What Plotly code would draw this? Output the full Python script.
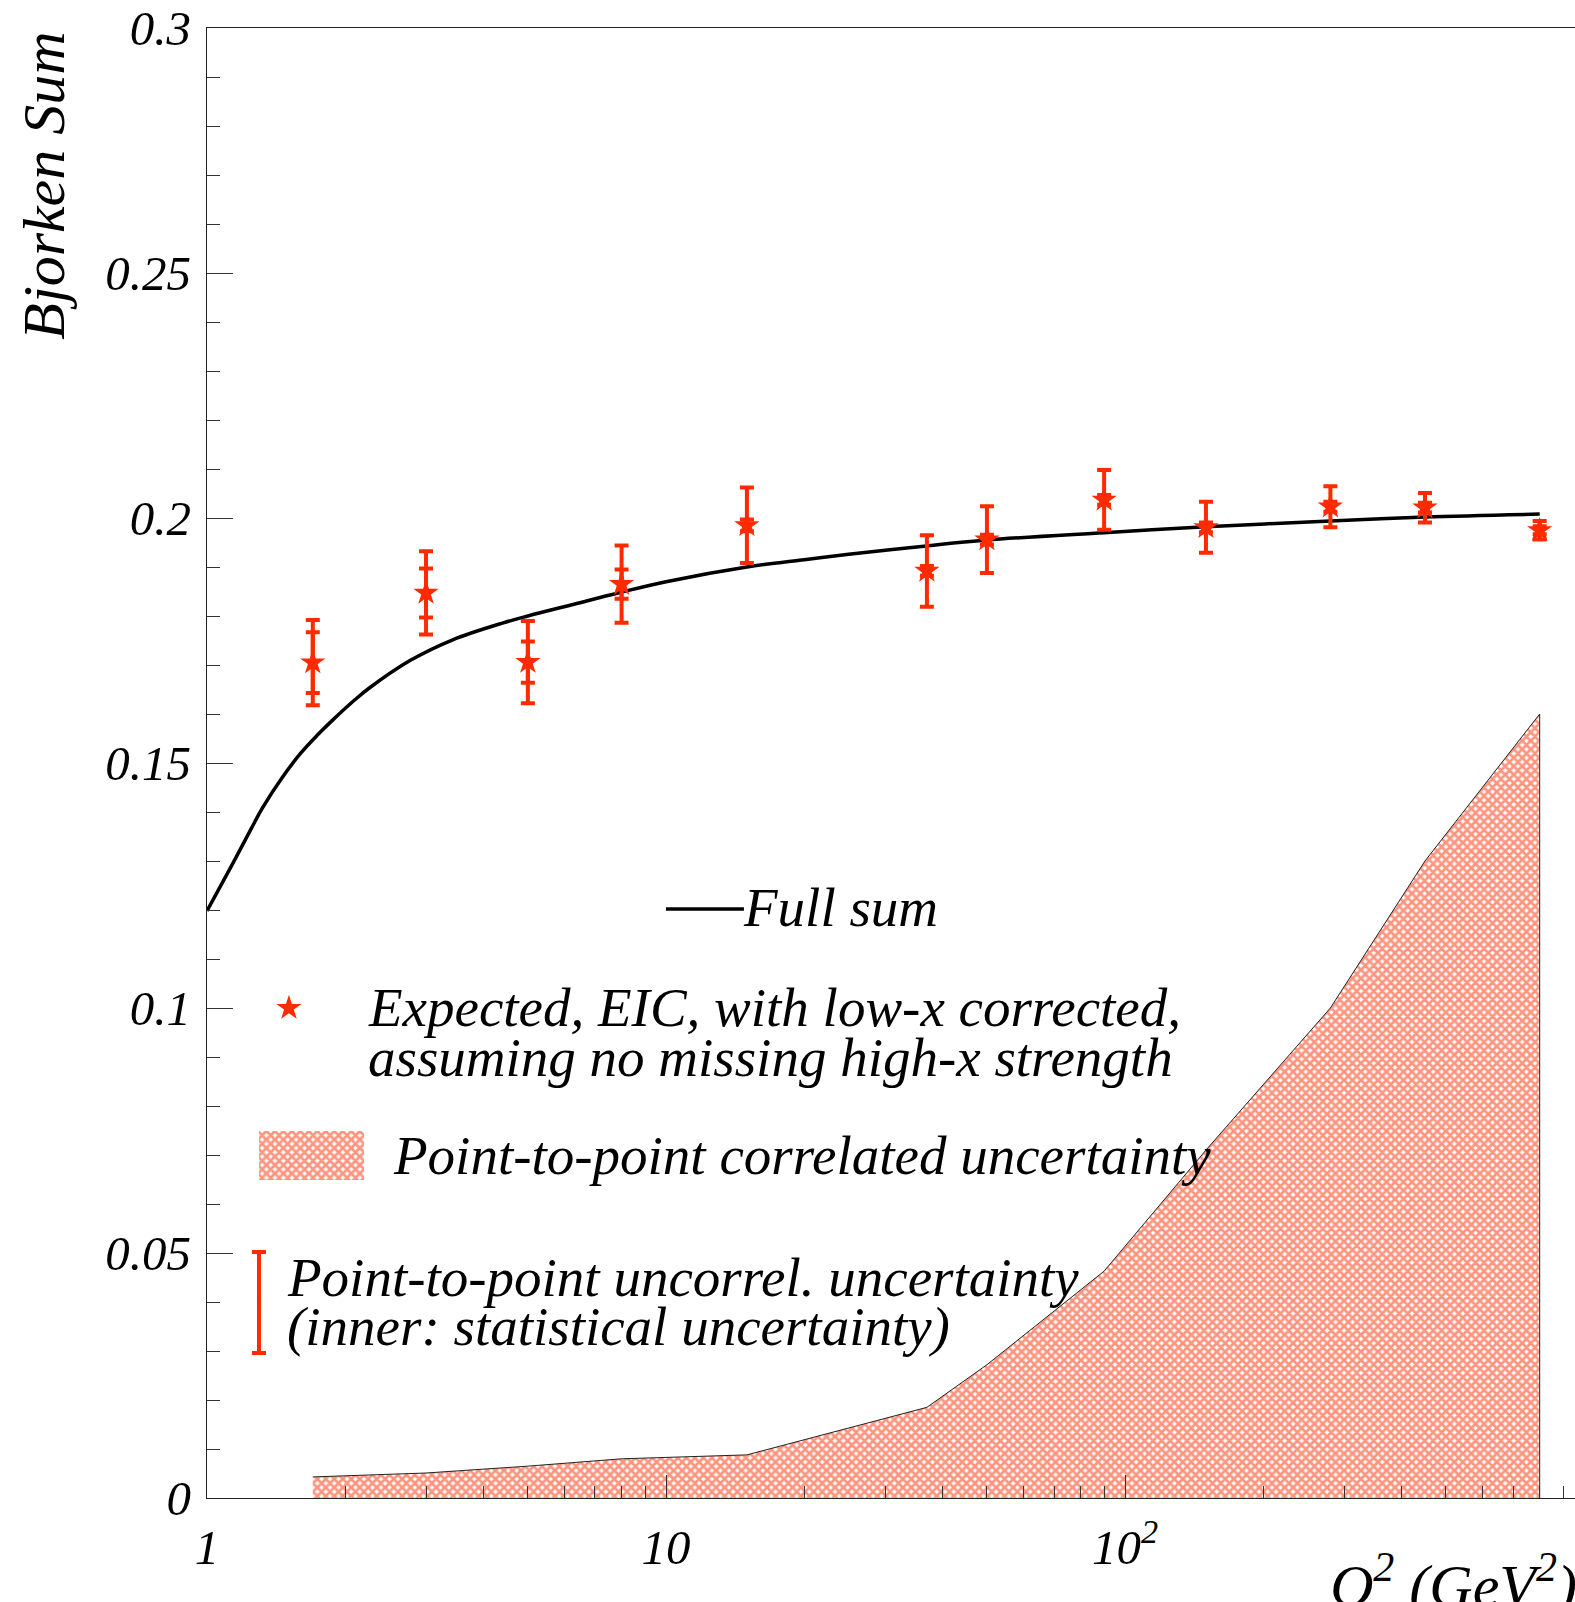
import plotly.graph_objects as go

# ---------------- data ----------------
q2_points = [1.7, 3, 5, 8, 15, 37, 50, 90, 150, 280, 450, 800]
bj_points = [0.1705, 0.1847, 0.1706, 0.1865, 0.1985, 0.1892, 0.1956, 0.2037, 0.1981, 0.2023, 0.2021, 0.1975]
err_total = [0.0087, 0.0085, 0.0084, 0.0079, 0.0077, 0.0073, 0.0068, 0.0061, 0.0052, 0.0042, 0.0030, 0.0019]
err_stat = [0.0062, 0.0050, 0.0042, 0.0030, 0.0012, 0.0010, 0.0010, 0.0010, 0.0010, 0.0010, 0.0010, 0.0008]

curve_q2 = [1.0, 1.14, 1.25, 1.32, 1.46, 1.6, 1.74, 1.88, 2.1, 2.25, 2.78, 3.42, 4.42, 5.0,
            6.3, 7.86, 10, 15, 20, 25, 36, 50, 90, 150, 280, 450, 800]
curve_bj = [0.1198, 0.1296, 0.1367, 0.1408, 0.1471, 0.1520, 0.1557, 0.1588, 0.1629, 0.1652,
            0.1710, 0.1751, 0.1786, 0.1800, 0.1824, 0.1847, 0.1870, 0.1900, 0.1915, 0.1926,
            0.1942, 0.1955, 0.1970, 0.1982, 0.1994, 0.2002, 0.2008]

fill_q2 = [1.7, 3, 5, 8, 15, 37, 50, 90, 150, 280, 450, 800]
fill_bj = [0.0043, 0.0051, 0.0065, 0.0080, 0.0088, 0.0185, 0.0272, 0.0463, 0.0710, 0.1000, 0.1300, 0.1600]

y_tickvals = [0, 0.05, 0.1, 0.15, 0.2, 0.25, 0.3]
y_ticktext = ["0", "0.05", "0.1", "0.15", "0.2", "0.25", "0.3"]
x_tickvals = [1, 10, 100]
x_ticktext = ["1", "10", "10<sup>2</sup>"]

RED = "#ff2a00"
FONT = "Liberation Serif"
FS_TICK = 49
FS_LEG = 55
HATCH = dict(shape="x", fgcolor=RED, bgcolor="white", size=6, solidity=0.7)

fig = go.Figure()

# correlated uncertainty band
fig.add_trace(go.Scatter(
    x=fill_q2 + [fill_q2[-1]], y=fill_bj + [0],
    mode="lines", fill="tozeroy",
    line=dict(color="#222222", width=1),
    fillcolor="white", fillpattern=HATCH,
    showlegend=False, hoverinfo="skip"))

# full sum curve
fig.add_trace(go.Scatter(
    x=curve_q2, y=curve_bj, mode="lines",
    line=dict(color="black", width=3.5, shape="spline", smoothing=1.0),
    showlegend=False))

# statistical (inner) error bars
fig.add_trace(go.Scatter(
    x=q2_points, y=bj_points, mode="markers",
    marker=dict(size=1, color=RED),
    error_y=dict(type="data", array=err_stat, visible=True, color=RED, thickness=4, width=7),
    showlegend=False))

# total error bars with star markers
fig.add_trace(go.Scatter(
    x=q2_points, y=bj_points, mode="markers",
    marker=dict(symbol="star", size=19, color=RED, line=dict(width=0)),
    error_y=dict(type="data", array=err_total, visible=True, color=RED, thickness=4, width=7),
    showlegend=False))

# ---------------- legend (drawn in an overlay 0..1 frame) ----------------
leg = dict(xaxis="x2", yaxis="y2", showlegend=False, hoverinfo="skip")
fig.add_trace(go.Scatter(x=[0.3355, 0.3925], y=[0.4007, 0.4007], mode="lines",
                         line=dict(color="black", width=3.5), **leg))
fig.add_trace(go.Scatter(x=[0.0599], y=[0.3333], mode="markers",
                         marker=dict(symbol="star", size=19, color=RED), **leg))
fig.add_trace(go.Scatter(x=[0.0380, 0.1148, 0.1148, 0.0380, 0.0380],
                         y=[0.2163, 0.2163, 0.2497, 0.2497, 0.2163],
                         mode="lines", fill="toself", line=dict(width=0, color="rgba(0,0,0,0)"),
                         fillcolor="white", fillpattern=HATCH, **leg))
fig.add_trace(go.Scatter(x=[0.0380], y=[0.13295], mode="markers", marker=dict(size=1, color=RED),
                         error_y=dict(type="data", array=[0.03435], visible=True, color=RED,
                                      thickness=4, width=7), **leg))


def txt(x, y, s, size=FS_LEG):
    fig.add_annotation(x=x, y=y, xref="paper", yref="paper", text=s, showarrow=False,
                       xanchor="left", yanchor="middle",
                       font=dict(family=FONT, size=size, color="black", style="italic"))


txt(0.3903, 0.4015, "Full sum")
txt(0.1162, 0.3336, "Expected, EIC, with low-x corrected,")
txt(0.1162, 0.2998, "assuming no missing high-x strength")
txt(0.1344, 0.2331, "Point-to-point correlated uncertainty")
txt(0.0569, 0.1497, "Point-to-point uncorrel. uncertainty")
txt(0.0569, 0.1164, "(inner: statistical uncertainty)")

# axis titles
fig.add_annotation(x=0.8195, y=-0.0565, xref="paper", yref="paper",
                   text="Q<sup>2</sup> (GeV<sup>2</sup>)", showarrow=False,
                   xanchor="left", yanchor="middle",
                   font=dict(family=FONT, size=60, color="black", style="italic"))
fig.add_annotation(x=-0.119, y=0.999, xref="paper", yref="paper",
                   text="Bjorken Sum", showarrow=False, textangle=-90,
                   xanchor="center", yanchor="top",
                   font=dict(family=FONT, size=60, color="black", style="italic"))

minor_x = [m * 10 ** e for e in range(0, 3) for m in range(2, 10)]

fig.update_layout(
    width=1575, height=1602,
    margin=dict(l=207, r=0, t=28, b=104),
    paper_bgcolor="white", plot_bgcolor="white",
    xaxis=dict(type="log", range=[0, 2.98], showgrid=False, zeroline=False,
               showline=True, linecolor="#222222", linewidth=1.2, mirror=True,
               ticks="inside", ticklen=23, tickcolor="#333333", tickwidth=1,
               tickvals=x_tickvals, ticktext=x_ticktext, ticklabelstandoff=6,
               tickfont=dict(family=FONT, size=FS_TICK, color="black", style="italic"),
               minor=dict(tickvals=minor_x, ticks="inside", ticklen=12,
                          tickcolor="#333333", tickwidth=1, showgrid=False)),
    yaxis=dict(range=[0, 0.3], showgrid=False, zeroline=False,
               showline=True, linecolor="#222222", linewidth=1.2,
               ticks="inside", ticklen=26, tickcolor="#333333", tickwidth=1,
               tickvals=y_tickvals, ticktext=y_ticktext, ticklabelstandoff=5,
               tickfont=dict(family=FONT, size=FS_TICK, color="black", style="italic"),
               minor=dict(dtick=0.01, ticks="inside", ticklen=13,
                          tickcolor="#333333", tickwidth=1, showgrid=False)),
    xaxis2=dict(range=[0, 1], overlaying="x", visible=False, anchor="y2"),
    yaxis2=dict(range=[0, 1], overlaying="y", visible=False, anchor="x2"),
)

fig.write_html("out.html",
               config={"displayModeBar": False},
               post_script="document.body.style.margin='0px';"
                           "document.body.style.overflow='hidden';"
                           "document.documentElement.style.overflow='hidden';")
